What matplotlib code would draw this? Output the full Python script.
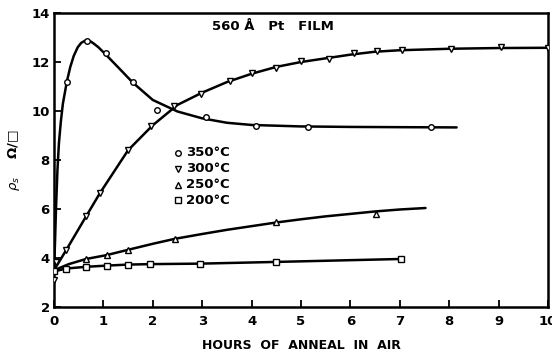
import numpy as np
import matplotlib.pyplot as plt

# measured sheet resistance (ohm/sq) vs anneal time (h)
t_350 = [0.0, 0.26, 0.67, 1.05, 1.6, 2.08, 3.08, 4.09, 5.14, 7.64]
r_350 = [3.5, 11.2, 12.86, 12.37, 11.18, 10.04, 9.76, 9.4, 9.35, 9.35]
t_300 = [0.0, 0.05, 0.24, 0.65, 0.93, 1.5, 1.97, 2.43, 2.98, 3.57, 4.01, 4.5,
         5.0, 5.56, 6.07, 6.53, 7.04, 8.04, 9.05, 10.0]
r_300 = [3.1, 3.84, 4.33, 5.7, 6.65, 8.4, 9.39, 10.2, 10.7, 11.22, 11.55, 11.76,
         12.04, 12.12, 12.37, 12.45, 12.49, 12.53, 12.6, 12.57]
t_250 = [0.0, 0.65, 1.07, 1.49, 2.44, 4.5, 6.51]
r_250 = [3.5, 3.96, 4.12, 4.33, 4.78, 5.47, 5.8]
t_200 = [0.0, 0.24, 0.65, 1.07, 1.49, 1.94, 2.96, 4.5, 7.02]
r_200 = [3.45, 3.55, 3.62, 3.67, 3.73, 3.75, 3.76, 3.84, 3.96]

# hand-drawn fit curves
fit_t_350 = [0.0, 0.02, 0.04, 0.07, 0.1, 0.14, 0.18, 0.26, 0.33, 0.4, 0.48, 0.55,
             0.62, 0.67, 0.74, 0.8, 0.9, 1.05, 1.3, 1.6, 2.0, 2.5, 3.0, 3.5,
             4.0, 5.0, 6.0, 7.0, 8.15]
fit_r_350 = [3.5, 4.6, 6.0, 7.6, 8.7, 9.6, 10.3, 11.2, 11.8, 12.25, 12.6, 12.78,
             12.86, 12.87, 12.84, 12.76, 12.6, 12.3, 11.78, 11.15, 10.45, 9.98,
             9.7, 9.52, 9.43, 9.37, 9.35, 9.34, 9.33]
fit_t_300 = [0.0, 0.24, 0.65, 0.93, 1.5, 2.0, 2.5, 3.0, 3.5, 4.0, 4.5, 5.0,
             5.5, 6.0, 6.5, 7.0, 8.0, 9.0, 10.0]
fit_r_300 = [3.5, 4.3, 5.7, 6.65, 8.4, 9.42, 10.25, 10.75, 11.18, 11.52, 11.8,
             12.0, 12.15, 12.3, 12.42, 12.48, 12.54, 12.57, 12.58]
fit_t_250 = [0.0, 0.3, 0.65, 1.07, 1.49, 2.0, 2.44, 3.0, 3.5, 4.0, 4.5, 5.0,
             5.5, 6.0, 6.5, 7.0, 7.52]
fit_r_250 = [3.5, 3.75, 3.96, 4.12, 4.33, 4.58, 4.78, 4.98, 5.15, 5.3, 5.45,
             5.58, 5.7, 5.8, 5.9, 5.98, 6.04]
fit_t_200 = [0.0, 0.24, 0.65, 1.07, 1.49, 1.94, 2.96, 4.5, 7.02]
fit_r_200 = [3.45, 3.57, 3.64, 3.69, 3.73, 3.75, 3.77, 3.84, 3.96]

fig = plt.figure(figsize=(5.52, 3.51), dpi=100)
ax = fig.add_axes([54 / 552, 1 - 307 / 351, 494 / 552, 294 / 351])

line_kw = dict(color="black", lw=1.8, solid_capstyle="round")
mk_kw = dict(ls="none", mfc="white", mec="black", mew=1.0, ms=4.0, zorder=3)

ax.plot(fit_t_350, fit_r_350, **line_kw)
ax.plot(fit_t_300, fit_r_300, **line_kw)
ax.plot(fit_t_250, fit_r_250, **line_kw)
ax.plot(fit_t_200, fit_r_200, **line_kw)

ax.plot(t_350, r_350, marker="o", **mk_kw)
ax.plot(t_300, r_300, marker="v", **mk_kw)
ax.plot(t_250, r_250, marker="^", **mk_kw)
ax.plot(t_200, r_200, marker="s", **mk_kw)

ax.set_xlim(0, 10)
ax.set_ylim(2, 14)
ax.set_xticks(range(0, 11))
ax.set_yticks(range(2, 15, 2))
ax.tick_params(direction="in", length=5, width=1.3, labelsize=9.5)
ax.tick_params(axis="x", pad=6)
ax.tick_params(axis="y", pad=3)
for lab in ax.get_xticklabels() + ax.get_yticklabels():
    lab.set_fontweight("bold")
for s in ax.spines.values():
    s.set_linewidth(1.8)

# legend drawn as marker + text
leg_y = [8.3, 7.65, 7.0, 6.35]
leg_txt = ["350°C", "300°C", "250°C", "200°C"]
leg_mk = ["o", "v", "^", "s"]
for y, m, txt in zip(leg_y, leg_mk, leg_txt):
    ax.plot([2.52], [y], marker=m, **mk_kw)
    ax.text(2.67, y, txt, fontsize=9.5, fontweight="bold", va="center")

ax.text(3.2, 13.45, "560 Å   Pt   FILM", fontsize=9.5, fontweight="bold",
        va="center", ha="left")

ax.set_xlabel("HOURS  OF  ANNEAL  IN  AIR", fontsize=9, fontweight="bold",
              labelpad=8)
ax.set_ylabel(r"$\rho_s$    Ω/□", fontsize=9.5, fontweight="bold", labelpad=7)

fig.savefig("out.png", dpi=100)
